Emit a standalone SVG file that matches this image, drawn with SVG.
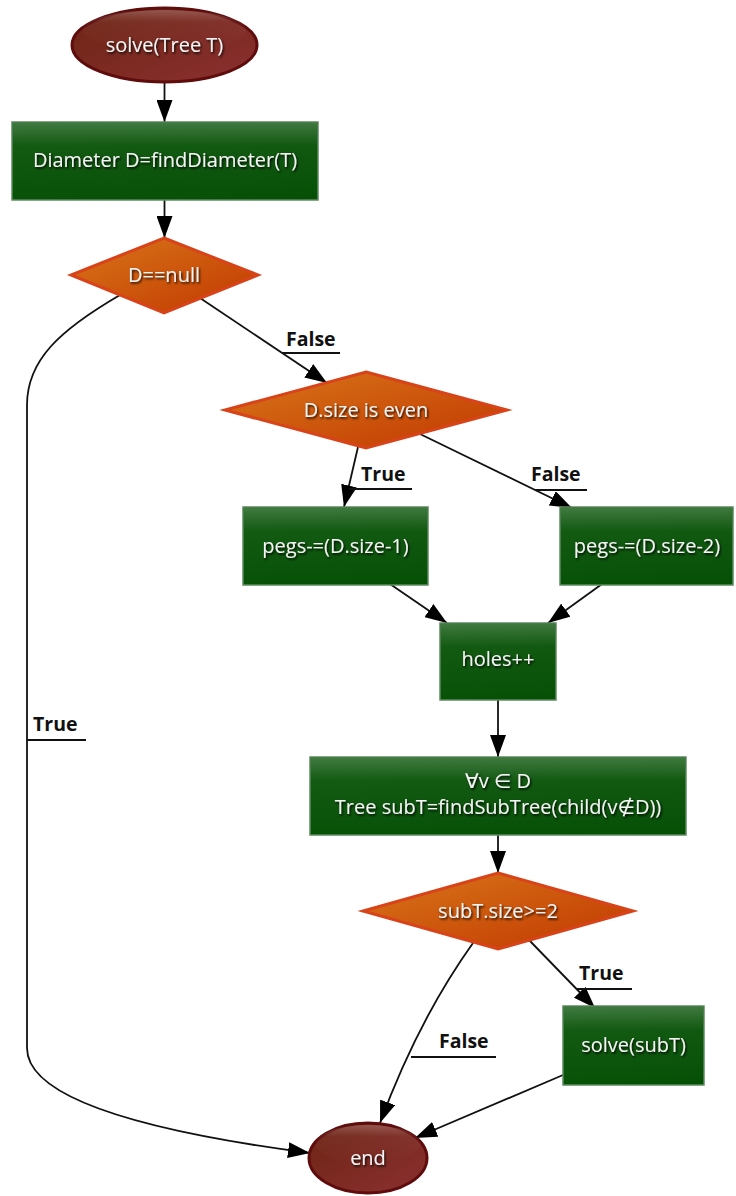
<svg xmlns="http://www.w3.org/2000/svg" width="736" height="1196" viewBox="0 0 736 1196">
  <defs>
    <linearGradient id="gEll" x1="0" y1="0" x2="1" y2="1">
      <stop offset="0" stop-color="#6c2414"/>
      <stop offset="1" stop-color="#8c3030"/>
    </linearGradient>
    <linearGradient id="gRect" x1="0" y1="0" x2="1" y2="1">
      <stop offset="0" stop-color="#0a540a"/>
      <stop offset="1" stop-color="#065006"/>
    </linearGradient>
    <linearGradient id="gDia" x1="0" y1="0" x2="1" y2="1">
      <stop offset="0" stop-color="#d8761a"/>
      <stop offset="1" stop-color="#c23800"/>
    </linearGradient>
    <linearGradient id="gGloss" x1="0" y1="0" x2="0" y2="1">
      <stop offset="0" stop-color="#ffffff" stop-opacity="0.22"/>
      <stop offset="0.3" stop-color="#ffffff" stop-opacity="0.04"/>
      <stop offset="1" stop-color="#ffffff" stop-opacity="0"/>
    </linearGradient>
    <filter id="shadow" x="-10%" y="-30%" width="120%" height="160%">
      <feDropShadow dx="1.2" dy="1.6" stdDeviation="0.8" flood-color="#000" flood-opacity="0.9"/>
    </filter>
    <marker id="arr" viewBox="0 0 22 16" refX="22" refY="8" markerWidth="22" markerHeight="16" orient="auto" markerUnits="userSpaceOnUse">
      <path d="M0,0 L22,8 L0,16 z" fill="#000"/>
    </marker>
    <style>
      .ell { fill: url(#gEll); stroke: #5e0c0c; stroke-width: 3; }
      .box { fill: url(#gRect); stroke: #5e8a5e; stroke-width: 1.5; }
      .dia { fill: url(#gDia); stroke: #d8431a; stroke-width: 3; }
      .gloss { fill: url(#gGloss); stroke: none; }
      .t { font-family: "Open Sans", "Noto Sans", "DejaVu Sans", sans-serif; font-size: 20px; fill: #f4f4f4; text-anchor: middle; filter: url(#shadow); }
      .lbl { font-family: "Open Sans", "Noto Sans", "DejaVu Sans", sans-serif; font-size: 19.5px; font-weight: bold; fill: #111; }
      .e { fill: none; stroke: #111; stroke-width: 1.8; marker-end: url(#arr); }
      .u { fill: none; stroke: #111; stroke-width: 1.8; }
    </style>
  </defs>

  <!-- connectors -->
  <g id="edges">
    <path class="e" d="M164.5 82 L164.5 122"/>
    <path class="e" d="M164.5 200 L164.5 238"/>
    <path class="e" d="M200 298 L327 383"/>
    <path class="u" d="M282 353 L340 353"/>
    <text class="lbl" x="286" y="346">False</text>
    <path class="e" d="M358 447 L344 507"/>
    <path class="u" d="M349 489 L412 489"/>
    <text class="lbl" x="361" y="481">True</text>
    <path class="e" d="M420 434 L572 508"/>
    <path class="u" d="M535 490 L587 490"/>
    <text class="lbl" x="531" y="481">False</text>
    <path class="e" d="M390 584 L447 623"/>
    <path class="e" d="M602 584 L548 623"/>
    <path class="e" d="M498 700 L498 757"/>
    <path class="e" d="M498 835 L498 873"/>
    <path class="e" d="M529 940 L595 1008"/>
    <path class="u" d="M577 989 L632 989"/>
    <text class="lbl" x="579" y="980">True</text>
    <path class="e" d="M473 943 Q418 1020 380 1123"/>
    <path class="u" d="M411 1057 L496 1057"/>
    <text class="lbl" x="439" y="1048">False</text>
    <path class="e" d="M563 1075 L415 1138"/>
    <path class="e" d="M120 295 C60 330 27 360 27 405 L27 1048 C27 1100 150 1132 310 1153"/>
    <path class="u" d="M27 740 L86 740"/>
    <text class="lbl" x="33" y="731">True</text>
  </g>

  <g id="start">
    <ellipse class="ell" cx="164.5" cy="45" rx="92.5" ry="37"/>
    <ellipse class="gloss" cx="164.5" cy="30" rx="82" ry="20"/>
    <text class="t" x="164.5" y="52">solve(Tree T)</text>
  </g>

  <g id="findDiameter">
    <rect class="box" x="12" y="122" width="306" height="78"/>
    <rect class="gloss" x="13" y="123" width="304" height="76"/>
    <text class="t" x="165" y="167">Diameter D=findDiameter(T)</text>
  </g>

  <g id="isNull">
    <polygon class="dia" points="164,238 258,275 164,313 71,275"/>
    <text class="t" x="164" y="282">D==null</text>
  </g>

  <g id="isEven">
    <polygon class="dia" points="366,372 507,410 366,448 225,410"/>
    <text class="t" x="366" y="417">D.size is even</text>
  </g>

  <g id="pegsOdd">
    <rect class="box" x="243" y="507" width="185" height="78"/>
    <rect class="gloss" x="244" y="508" width="183" height="76"/>
    <text class="t" x="335.5" y="553">pegs-=(D.size-1)</text>
  </g>

  <g id="pegsEven">
    <rect class="box" x="560" y="507" width="173" height="78"/>
    <rect class="gloss" x="561" y="508" width="171" height="76"/>
    <text class="t" x="647" y="553">pegs-=(D.size-2)</text>
  </g>

  <g id="holes">
    <rect class="box" x="440" y="623" width="116" height="77"/>
    <rect class="gloss" x="441" y="624" width="114" height="75"/>
    <text class="t" x="498" y="666">holes++</text>
  </g>

  <g id="subTree">
    <rect class="box" x="310" y="757" width="376" height="78"/>
    <rect class="gloss" x="311" y="758" width="374" height="76"/>
    <text class="t" x="498" y="788">∀v ∈ D</text>
    <text class="t" x="498" y="814">Tree subT=findSubTree(child(v∉D))</text>
  </g>

  <g id="sizeCheck">
    <polygon class="dia" points="498,873 633,911 498,949 363,911"/>
    <text class="t" x="498" y="918">subT.size&gt;=2</text>
  </g>

  <g id="recurse">
    <rect class="box" x="563" y="1006" width="141" height="79"/>
    <rect class="gloss" x="564" y="1007" width="139" height="77"/>
    <text class="t" x="633.5" y="1052">solve(subT)</text>
  </g>

  <g id="end">
    <ellipse class="ell" cx="368" cy="1158" rx="59" ry="35"/>
    <ellipse class="gloss" cx="368" cy="1144" rx="52" ry="19"/>
    <text class="t" x="368" y="1165">end</text>
  </g>
</svg>
